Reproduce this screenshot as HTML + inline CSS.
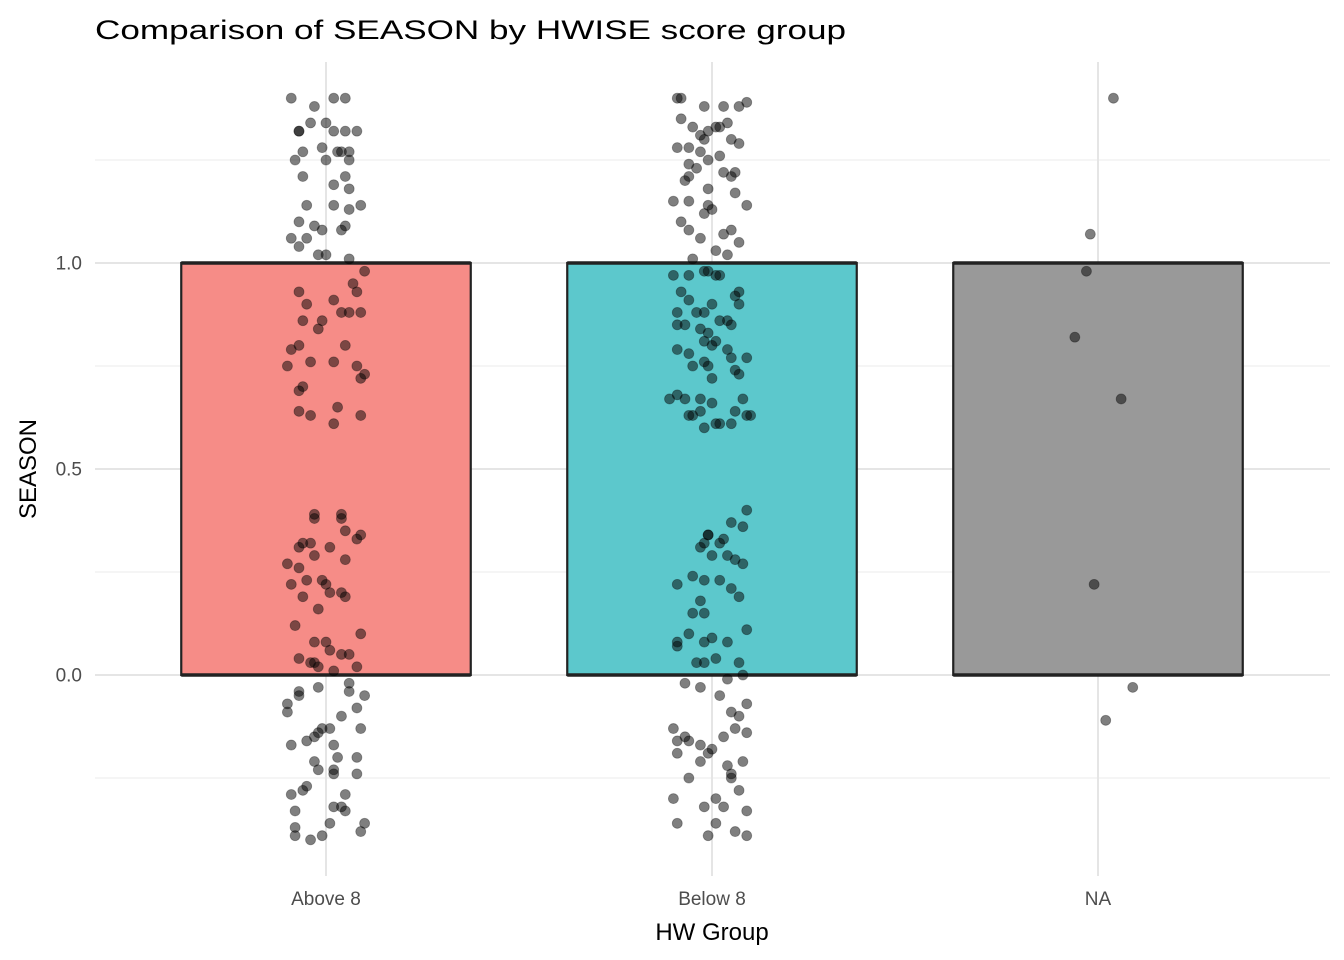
<!DOCTYPE html>
<html><head><meta charset="utf-8"><style>
html,body{margin:0;padding:0;background:#fff;}
svg{display:block;font-family:"Liberation Sans",Arial,sans-serif;}
</style></head><body>
<svg id="chart" width="1344" height="960" viewBox="0 0 1344 960" xmlns="http://www.w3.org/2000/svg">
<text x="95" y="39" font-size="27" fill="#000" textLength="751" lengthAdjust="spacingAndGlyphs">Comparison of SEASON by HWISE score group</text>
<g id="grid"></g><g id="bars"></g><g id="points"></g><g id="axes"></g>
<text x="712" y="940" font-size="24" text-anchor="middle" fill="#000">HW Group</text>
<text transform="translate(36,469) rotate(-90)" font-size="24" text-anchor="middle" fill="#000">SEASON</text>
</svg>
<script>
const categories = ["Above 8", "Below 8", "NA"];
const barValues = [1, 1, 1];
const barColors = ["#F68C87", "#5CC8CC", "#999999"];
const yTicks = [0, 0.5, 1.0];
const yTickLabels = ["0.0", "0.5", "1.0"];
const yMinor = [-0.25, 0.25, 0.75, 1.25];

const g1X = [-0.09,-0.04,-0.07,-0.07,-0.03,0.02,0.05,0,0.02,0.05,0.08,-0.01,0.03,0.04,0.06,0.06,-0.08,-0.06,0,-0.06,0.05,0.02,0.06,-0.05,0.02,-0.07,-0.03,0.05,0.06,0.09,-0.09,-0.07,-0.05,-0.01,0.04,-0.02,0,0.06,
0.10,-0.07,0.07,0.08,-0.05,0.02,0.06,0.09,-0.06,-0.01,-0.02,0.04,-0.07,-0.09,0.05,-0.04,-0.10,0.08,0.02,-0.06,-0.07,0.09,0.10,-0.07,-0.04,0.03,0.02,0.09,
-0.03,0.04,-0.03,0.04,0.09,0.08,0.05,-0.04,-0.06,-0.07,-0.03,-0.10,-0.07,0.05,0.01,-0.05,-0.09,-0.01,0,-0.06,0.01,0.04,0.05,-0.02,-0.08,0.09,-0.03,0,-0.07,-0.04,-0.03,0.04,0.08,0.06,0.01,-0.02,0.02,
0.06,-0.07,-0.02,0.06,-0.07,0.10,-0.10,-0.10,0.08,0.04,-0.01,-0.02,-0.03,0.01,0.09,-0.09,-0.05,0.02,0.08,0.03,-0.03,0.02,0.02,-0.02,0.08,-0.05,-0.09,-0.06,0.05,-0.08,0.02,0.04,0.05,0.01,0.10,0.09,-0.08,-0.01,-0.08,-0.04];
const g1Y = [1.40,1.34,1.32,1.32,1.38,1.40,1.40,1.34,1.32,1.32,1.32,1.28,1.27,1.27,1.25,1.27,1.25,1.27,1.25,1.21,1.21,1.19,1.18,1.14,1.14,1.10,1.09,1.09,1.13,1.14,1.06,1.04,1.06,1.08,1.08,1.02,1.02,1.01,
0.98,0.93,0.95,0.93,0.90,0.91,0.88,0.88,0.86,0.86,0.84,0.88,0.80,0.79,0.80,0.76,0.75,0.75,0.76,0.70,0.69,0.72,0.73,0.64,0.63,0.65,0.61,0.63,
0.39,0.39,0.38,0.38,0.34,0.33,0.35,0.32,0.32,0.31,0.29,0.27,0.26,0.28,0.31,0.23,0.22,0.23,0.22,0.19,0.20,0.20,0.19,0.16,0.12,0.10,0.08,0.08,0.04,0.03,0.03,0.05,0.02,0.05,0.06,0.02,0.01,
-0.02,-0.04,-0.03,-0.04,-0.05,-0.05,-0.07,-0.09,-0.08,-0.10,-0.13,-0.14,-0.15,-0.13,-0.13,-0.17,-0.16,-0.17,-0.20,-0.20,-0.21,-0.23,-0.24,-0.23,-0.24,-0.27,-0.29,-0.28,-0.29,-0.33,-0.32,-0.32,-0.33,-0.36,-0.36,-0.38,-0.37,-0.39,-0.39,-0.40];

const g2X = [-0.09,-0.08,-0.02,0.03,0.09,0.07,-0.08,-0.05,-0.03,-0.01,0.01,0.02,0.04,-0.02,0.05,0.07,-0.06,-0.09,-0.03,0.02,-0.01,-0.06,-0.04,-0.07,-0.06,0.03,0.05,0.06,0.06,-0.01,-0.10,-0.06,-0.01,0,-0.02,0.09,-0.08,-0.06,0.03,0.05,0.07,-0.03,-0.05,0.01,0.04,
-0.10,-0.06,-0.02,-0.01,0.01,0.02,0.07,-0.08,-0.06,-0.09,-0.04,-0.02,0,0.06,0.07,0.04,0.05,-0.09,-0.07,-0.03,-0.01,0.02,-0.02,0,0.04,0.05,-0.09,-0.06,0.01,0.09,-0.02,0,0.06,0.07,-0.01,-0.05,-0.09,-0.03,-0.07,-0.11,-0.05,-0.06,-0.03,0,0.02,0.06,0.08,0.09,0.10,-0.02,0.01,0.05,
0.09,-0.01,-0.01,0.05,0.08,0.03,0.02,-0.02,-0.03,0,0.04,0.06,0.08,-0.09,-0.05,-0.02,0.02,0.05,0.07,-0.03,-0.05,-0.02,-0.09,-0.09,-0.06,0,0.09,-0.02,0.04,-0.04,-0.02,0.01,0.07,
-0.07,-0.03,0.04,0.08,0.02,0.09,0.07,0.05,-0.10,-0.09,-0.07,-0.06,-0.03,0,0.03,0.06,0.09,-0.09,-0.01,-0.03,0.04,0.08,0.05,-0.06,0.05,-0.10,0.01,0.07,-0.02,0.03,0.09,-0.09,-0.01,0.06,0.09,0.01];
const g2Y = [1.40,1.40,1.38,1.38,1.39,1.38,1.35,1.33,1.31,1.32,1.33,1.33,1.34,1.30,1.30,1.29,1.28,1.28,1.27,1.26,1.25,1.24,1.23,1.20,1.21,1.22,1.21,1.22,1.17,1.18,1.15,1.15,1.14,1.13,1.12,1.14,1.10,1.08,1.07,1.08,1.05,1.06,1.01,1.03,1.02,
0.97,0.97,0.98,0.98,0.97,0.97,0.93,0.93,0.91,0.88,0.88,0.88,0.90,0.92,0.90,0.86,0.85,0.85,0.85,0.84,0.83,0.86,0.81,0.80,0.79,0.77,0.79,0.78,0.81,0.77,0.76,0.72,0.74,0.73,0.75,0.75,0.68,0.67,0.67,0.67,0.63,0.63,0.64,0.66,0.61,0.64,0.67,0.63,0.63,0.60,0.61,0.61,
0.40,0.34,0.34,0.37,0.36,0.33,0.32,0.32,0.31,0.29,0.29,0.28,0.27,0.22,0.24,0.23,0.23,0.21,0.19,0.18,0.15,0.15,0.07,0.08,0.10,0.09,0.11,0.08,0.08,0.03,0.03,0.04,0.03,
-0.02,-0.03,-0.01,0.00,-0.05,-0.07,-0.10,-0.09,-0.13,-0.16,-0.15,-0.16,-0.17,-0.18,-0.15,-0.13,-0.14,-0.19,-0.19,-0.21,-0.22,-0.21,-0.24,-0.25,-0.25,-0.30,-0.30,-0.28,-0.32,-0.32,-0.33,-0.36,-0.39,-0.38,-0.39,-0.36];

const g3X = [0.04,-0.02,-0.03,-0.06,0.06,-0.01,0.09,0.02];
const g3Y = [1.40,1.07,0.98,0.82,0.67,0.22,-0.03,-0.11];

const NS = "http://www.w3.org/2000/svg";
const plotLeft = 95, plotRight = 1330, plotTop = 62, plotBottom = 876;
const bandStart = 133, band = 386;
function xScale(i){ return bandStart + band * (i + 0.5); }
function yScale(v){ return 675 - 412 * v; }
function mk(tag, attrs, parent){ const e = document.createElementNS(NS, tag); for (const k in attrs) e.setAttribute(k, attrs[k]); parent.appendChild(e); return e; }

const grid = document.getElementById("grid");
yMinor.forEach(v => {
  const l = mk("line", {x1:plotLeft, x2:plotRight, y1:yScale(v), y2:yScale(v), stroke:"#ebebeb", "stroke-width":1}, grid);
  
  
});
yTicks.forEach(v => {
  const l = mk("line", {x1:plotLeft, x2:plotRight, y1:yScale(v), y2:yScale(v), stroke:"#e5e5e5", "stroke-width":2}, grid);
  
  
});
categories.forEach((c, i) => {
  const l = mk("line", {x1:xScale(i), x2:xScale(i), y1:plotTop, y2:plotBottom, stroke:"#e5e5e5", "stroke-width":2}, grid);
  
  
});

const bars = document.getElementById("bars");
const bw = band * 0.75;
barValues.forEach((v, i) => {
  const r = mk("rect", {x:xScale(i) - bw/2, y:yScale(v), width:bw, height:yScale(0) - yScale(v), fill:barColors[i], stroke:"#222", "stroke-width":2.2}, bars);
  
  
  const t = mk("line", {x1:xScale(i) - bw/2, x2:xScale(i) + bw/2, y1:yScale(v), y2:yScale(v), stroke:"#222", "stroke-width":3.5}, bars);
  
  
  const b = mk("line", {x1:xScale(i) - bw/2, x2:xScale(i) + bw/2, y1:yScale(0), y2:yScale(0), stroke:"#222", "stroke-width":3.5}, bars);
  
  
});

const pts = document.getElementById("points");
[[g1X, g1Y], [g2X, g2Y], [g3X, g3Y]].forEach((g, i) => {
  const n = Math.min(g[0].length, g[1].length);
  for (let k = 0; k < n; k++) {
    const c = mk("circle", {cx:xScale(i + g[0][k]), cy:yScale(g[1][k]), r:5, fill:"#000", "fill-opacity":0.5, stroke:"#000", "stroke-opacity":0.35, "stroke-width":0.8}, pts);
    
    
  }
});

const axes = document.getElementById("axes");
yTicks.forEach((v, i) => {
  const t = mk("text", {x:82, y:yScale(v) + 6.5, "font-size":19, "text-anchor":"end", fill:"#4d4d4d"}, axes);
  t.textContent = yTickLabels[i];
  
  
});
categories.forEach((c, i) => {
  const t = mk("text", {x:xScale(i), y:905, "font-size":19, "text-anchor":"middle", fill:"#4d4d4d"}, axes);
  t.textContent = c;
  
  
});
</script>
</body></html>
